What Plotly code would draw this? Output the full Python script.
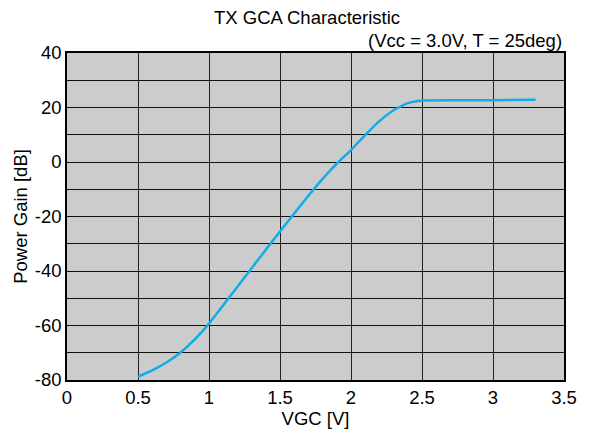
import plotly.graph_objects as go

vgc = [0.5, 0.6, 0.7, 0.8, 0.9, 1.0, 1.1, 1.2, 1.3, 1.4, 1.5, 1.6, 1.7, 1.8,
       1.9, 2.0, 2.1, 2.2, 2.3, 2.4, 2.5, 2.75, 3.0, 3.3]
gain = [-78.8, -76.5, -73.6, -69.9, -65.1, -59.3, -52.6, -45.8, -39.0, -32.2,
        -25.5, -18.9, -12.4, -6.2, -0.6, 4.4, 9.9, 15.0, 19.0, 21.6, 22.6,
        22.7, 22.7, 22.8]

x_ticks = [0, 0.5, 1, 1.5, 2, 2.5, 3, 3.5]
x_tick_text = ["0", "0.5", "1", "1.5", "2", "2.5", "3", "3.5"]
y_ticks = [-80, -60, -40, -20, 0, 20, 40]
y_tick_text = ["-80", "-60", "-40", "-20", "0", "20", "40"]

FONT = "Liberation Sans, Arial, sans-serif"
FS = 18.5

fig = go.Figure()
fig.add_trace(go.Scatter(
    x=vgc, y=gain, mode="lines",
    line=dict(color="#11ADE9", width=2.5, shape="spline", smoothing=0.4),
    showlegend=False, hoverinfo="skip",
))

fig.update_layout(
    width=589, height=430,
    paper_bgcolor="white", plot_bgcolor="#CCCCCC",
    margin=dict(l=59, r=33, t=45, b=58, autoexpand=False),
    font=dict(family=FONT, size=FS, color="black"),
    annotations=[
        dict(text="TX GCA Characteristic", xref="paper", yref="paper",
             x=0.483, y=1, yshift=36, xanchor="center", yanchor="middle",
             showarrow=False, font=dict(size=FS)),
        dict(text="(Vcc = 3.0V, T = 25deg)", xref="paper", yref="paper",
             x=1, y=1, yshift=13, xanchor="right", yanchor="middle",
             showarrow=False, font=dict(size=FS)),
    ],
)

fig.update_xaxes(
    range=[0, 3.5], tickvals=x_ticks, ticktext=x_tick_text,
    showgrid=True, gridcolor="#222222", gridwidth=1,
    showline=True, linecolor="black", linewidth=1.5, mirror=True,
    ticks="", zeroline=False,
    title=dict(text="VGC [V]", font=dict(size=FS), standoff=2),
    tickfont=dict(size=FS),
)
fig.update_yaxes(
    range=[-80, 40], tickvals=y_ticks, ticktext=y_tick_text,
    showgrid=True, gridcolor="#111111", gridwidth=1,
    minor=dict(dtick=10, tick0=0, showgrid=True, gridcolor="#111111", gridwidth=1),
    showline=True, linecolor="black", linewidth=1.5, mirror=True,
    ticks="", zeroline=False,
    title=dict(text="Power Gain [dB]", font=dict(size=FS), standoff=2),
    tickfont=dict(size=FS),
)

fig.write_html("out.html")
